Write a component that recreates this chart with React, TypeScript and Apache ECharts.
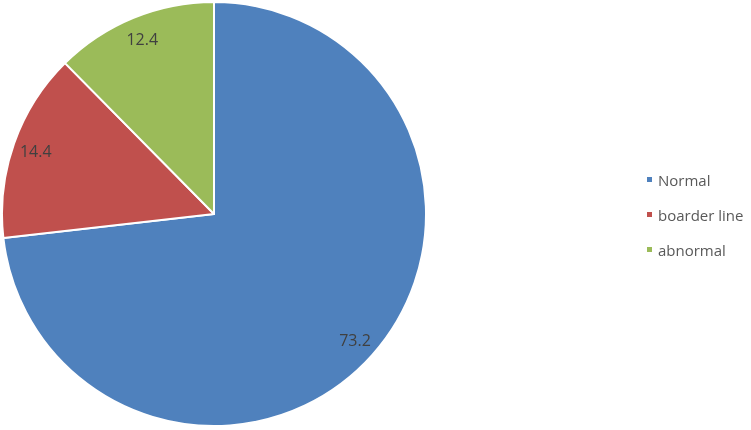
import React, { useEffect, useRef } from "react";
import * as echarts from "echarts";

const categories = ["Normal", "boarder line", "abnormal"];
const values = [73.2, 14.4, 12.4];
const colors = ["#4F81BD", "#C0504D", "#9BBB59"];

export default function App() {
  const ref = useRef<HTMLDivElement>(null);
  useEffect(() => {
    const chart = echarts.init(ref.current!, undefined, { renderer: "svg" });
    const data = categories.map((name, i) => ({ name, value: values[i] }));
    chart.setOption({
      animation: false,
      color: colors,
      legend: {
        orient: "vertical",
        left: 640,
        top: 167,
        itemWidth: 7,
        itemHeight: 7,
        itemGap: 20,
        icon: "rect",
        data: categories,
        textStyle: { fontSize: 15, color: "#595959", fontFamily: "Open Sans" },
      },
      series: [
        {
          type: "pie",
          center: [214, 214],
          radius: [0, 212],
          startAngle: 90,
          clockwise: true,
          data,
          label: { show: false },
          labelLine: { show: false },
          itemStyle: { borderColor: "#ffffff", borderWidth: 2 },
          emphasis: { disabled: true },
        },
        {
          type: "pie",
          center: [214, 214],
          radius: [176, 196],
          startAngle: 90,
          clockwise: true,
          silent: true,
          data,
          itemStyle: { color: "rgba(0,0,0,0)", borderWidth: 0 },
          label: {
            show: true,
            position: "inside",
            formatter: "{c}",
            fontSize: 16,
            color: "#404040",
            fontFamily: "Open Sans",
          },
          labelLine: { show: false },
          emphasis: { disabled: true },
        },
      ],
    });
    return () => chart.dispose();
  }, []);
  return (
    <div
      ref={ref}
      style={{ position: "fixed", left: 0, top: 0, width: 751, height: 430 }}
    />
  );
}
